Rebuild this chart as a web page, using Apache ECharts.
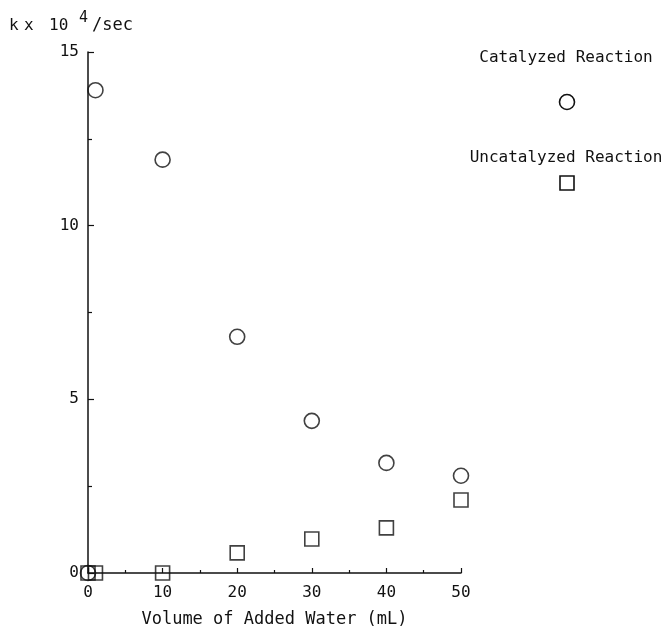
<!DOCTYPE html>
<html>
<head>
<meta charset="utf-8">
<script src="https://cdn.jsdelivr.net/npm/echarts@6/dist/echarts.min.js"></script>
<style>html,body{margin:0;padding:0;background:#fff;overflow:hidden}#c{width:668px;height:630px}</style>
</head>
<body>
<div id="c"></div>
<script>
// Data
var waterVolume = [0, 1, 10, 20, 30, 40, 50];
var catalyzedK = [0, 13.9, 11.9, 6.8, 4.38, 3.17, 2.8];
var uncatalyzedK = [0, 0, 0, 0.58, 0.98, 1.3, 2.1];
var seriesNames = ['Catalyzed Reaction', 'Uncatalyzed Reaction'];
var xTickValues = [0, 10, 20, 30, 40, 50];
var yTickValues = [0, 5, 10, 15];

var FONT = 'DejaVu Sans Mono';
function pairs(xs, ys) { return xs.map(function (x, i) { return [x, ys[i]]; }); }

var chart = echarts.init(document.getElementById('c'));
chart.setOption({
  animation: false,
  backgroundColor: '#fff',
  grid: { left: 88, right: 207, top: 52, bottom: 57, containLabel: false, outerBoundsMode: 'none' },
  xAxis: {
    type: 'value', min: 0, max: 50, interval: 10,
    name: 'Volume of Added Water (mL)', nameLocation: 'middle', nameGap: 38,
    nameTextStyle: { fontFamily: FONT, fontSize: 17, color: '#111' },
    axisLine: { show: true, lineStyle: { color: '#111', width: 1.5 } },
    axisTick: { show: true, inside: true, length: 5, lineStyle: { color: '#111', width: 1.2 } },
    minorTick: { show: true, splitNumber: 2, length: 3, lineStyle: { color: '#111', width: 1.2 } },
    axisLabel: { fontFamily: FONT, fontSize: 16, color: '#111', margin: 12,
      formatter: function (v) { return xTickValues.indexOf(v) >= 0 ? String(v) : ''; } },
    splitLine: { show: false }
  },
  yAxis: {
    type: 'value', min: 0, max: 15, interval: 5,
    axisLine: { show: true, lineStyle: { color: '#111', width: 1.5 } },
    axisTick: { show: true, inside: true, length: 6, lineStyle: { color: '#111', width: 1.2 } },
    minorTick: { show: true, splitNumber: 2, length: 4, lineStyle: { color: '#111', width: 1.2 } },
    axisLabel: { fontFamily: FONT, fontSize: 16, color: '#111', margin: 9,
      formatter: function (v) { return yTickValues.indexOf(v) >= 0 ? String(v) : ''; } },
    splitLine: { show: false }
  },
  series: [
    {
      name: seriesNames[0], type: 'scatter', symbol: 'circle', symbolSize: 15,
      data: pairs(waterVolume, catalyzedK),
      itemStyle: { color: 'rgba(255,255,255,0)', borderColor: '#111', borderWidth: 1.6 },
      z: 3
    },
    {
      name: seriesNames[1], type: 'scatter', symbol: 'rect', symbolSize: 14,
      data: pairs(waterVolume, uncatalyzedK),
      itemStyle: { color: 'rgba(255,255,255,0)', borderColor: '#111', borderWidth: 1.6 },
      z: 4
    }
  ],
  graphic: [
    { type: 'text', x: 9, y: 26, style: { text: 'k', fontFamily: FONT, fontSize: 16, fill: '#111', verticalAlign: 'middle' } },
    { type: 'text', x: 24, y: 26, style: { text: 'x', fontFamily: FONT, fontSize: 16, fill: '#111', verticalAlign: 'middle' } },
    { type: 'text', x: 49, y: 26, style: { text: '10', fontFamily: FONT, fontSize: 16, fill: '#111', verticalAlign: 'middle' } },
    { type: 'text', x: 79, y: 18, style: { text: '4', fontFamily: FONT, fontSize: 15, fill: '#111', verticalAlign: 'middle' } },
    { type: 'text', x: 92, y: 26, style: { text: '/sec', fontFamily: FONT, fontSize: 17, fill: '#111', verticalAlign: 'middle' } },
    { type: 'text', x: 566, y: 58, style: { text: seriesNames[0], fontFamily: FONT, fontSize: 16, fill: '#111', align: 'center', verticalAlign: 'middle' } },
    { type: 'circle', shape: { cx: 567, cy: 102, r: 7.5 }, style: { fill: 'none', stroke: '#111', lineWidth: 1.6 } },
    { type: 'text', x: 566, y: 158, style: { text: seriesNames[1], fontFamily: FONT, fontSize: 16, fill: '#111', align: 'center', verticalAlign: 'middle' } },
    { type: 'rect', shape: { x: 560, y: 176, width: 14, height: 14 }, style: { fill: 'none', stroke: '#111', lineWidth: 1.6 } }
  ]
});
</script>
</body>
</html>
